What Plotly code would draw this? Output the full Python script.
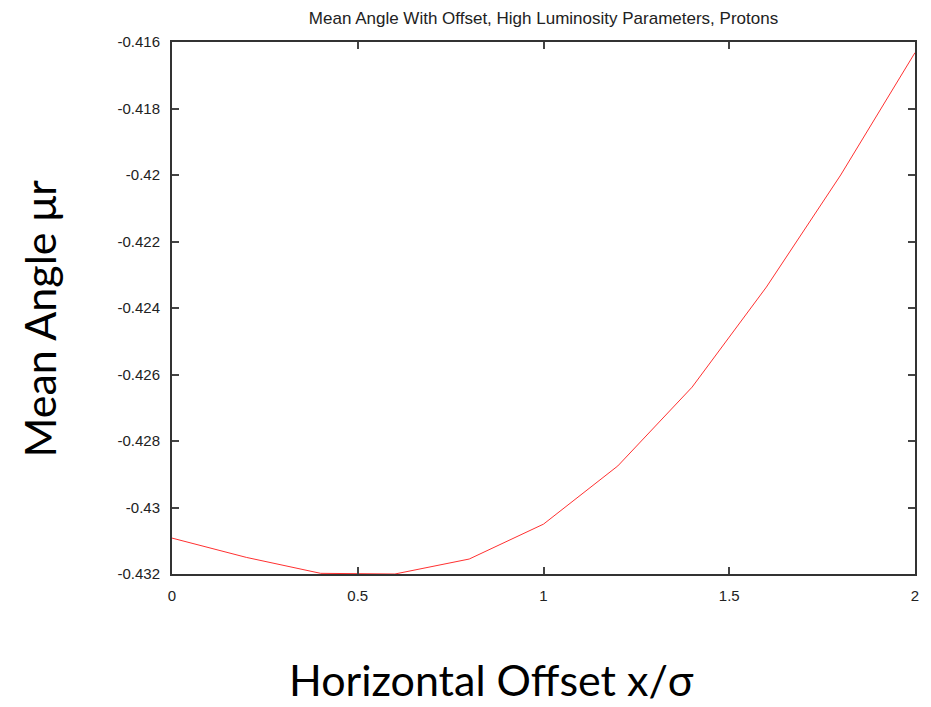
import plotly.graph_objects as go

offset = [0.0, 0.2, 0.4, 0.6, 0.8, 1.0, 1.2, 1.4, 1.6, 1.8, 2.0]
mean_angle = [-0.43092, -0.43150, -0.43198, -0.43200, -0.43155, -0.43050,
              -0.42875, -0.42638, -0.42337, -0.42000, -0.41632]

x_ticks = [0, 0.5, 1, 1.5, 2]
x_tick_text = ["0", "0.5", "1", "1.5", "2"]
y_ticks = [-0.432, -0.430, -0.428, -0.426, -0.424, -0.422, -0.420, -0.418, -0.416]
y_tick_text = ["-0.432", "-0.43", "-0.428", "-0.426", "-0.424", "-0.422", "-0.42", "-0.418", "-0.416"]

fig = go.Figure()
fig.add_trace(go.Scatter(x=offset, y=mean_angle, mode="lines",
                         line=dict(color="#ff3030", width=1), showlegend=False))

fig.update_layout(
    width=923, height=699,
    margin=dict(l=164, r=13, t=34, b=133),
    paper_bgcolor="white", plot_bgcolor="white",
    title=dict(text="Mean Angle With Offset, High Luminosity Parameters, Protons",
               xref="paper", x=0.5, xanchor="center", y=0.985, yanchor="middle",
               font=dict(family="Liberation Sans", size=17, color="#222")),
    font=dict(family="Liberation Sans", color="#222"),
)
fig.add_annotation(text="Horizontal Offset x/σ", xref="paper", yref="paper",
                   x=0.4303, y=-0.1992, xanchor="center", yanchor="middle",
                   showarrow=False, font=dict(family="Lato, Open Sans", size=43, color="black"))
fig.add_annotation(text="Mean Angle μr", xref="paper", yref="paper", textangle=-90,
                   x=-0.1796, y=0.4793, xanchor="center", yanchor="middle",
                   showarrow=False, font=dict(family="Lato, Open Sans", size=43, color="black"))

axis_style = dict(showline=True, linecolor="#333", linewidth=2, mirror="ticks",
                  ticks="inside", ticklen=7, tickwidth=1.5, tickcolor="#444",
                  showgrid=False, zeroline=False, tickfont=dict(size=15),
                  ticklabelstandoff=7)
fig.update_xaxes(range=[0, 2], tickvals=x_ticks, ticktext=x_tick_text, **axis_style)
fig.update_yaxes(range=[-0.432, -0.416], tickvals=y_ticks, ticktext=y_tick_text, **axis_style)

fig.write_html("out.html")
